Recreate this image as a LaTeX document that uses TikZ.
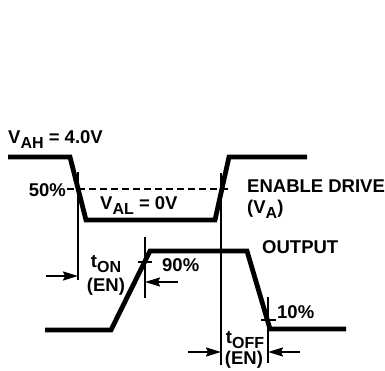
\documentclass[tikz,border=0pt]{standalone}
\usepackage{fontspec}
\setmainfont{Liberation Sans}
\usetikzlibrary{arrows.meta}
\newcommand{\lowidx}[1]{\raisebox{-4.5pt}{\fontsize{16}{18}\selectfont #1}}
\tikzset{
  >={Stealth[length=15pt,width=9pt,inset=2pt]},
  wave/.style={line width=4.8pt,draw=black},
  marker/.style={line width=1.8pt,draw=black},
  level/.style={line width=1.6pt,dash pattern=on 7pt off 4pt},
  dim/.style={->,line width=1.8pt},
  lbl/.style={font=\bfseries\fontsize{18.5}{21}\selectfont,inner sep=0pt}
}
\begin{document}
\begin{tikzpicture}[x=1pt,y=1pt]
  \useasboundingbox (0,0) rectangle (385,371);
  % enable drive
  \coordinate (a0) at (8,214);
  \coordinate (a1) at (70,214);
  \coordinate (a2) at (86,151);
  \coordinate (a3) at (215,151);
  \coordinate (a4) at (229,214);
  \coordinate (a5) at (307,214);
  \draw[wave] (a0)--(a1)--(a2)--(a3)--(a4)--(a5);
  % output
  \coordinate (b0) at (45,41);
  \coordinate (b1) at (111,41);
  \coordinate (b2) at (150,120);
  \coordinate (b3) at (247,120);
  \coordinate (b4) at (270,42);
  \coordinate (b5) at (346,42);
  \draw[wave] (b0)--(b1)--(b2)--(b3)--(b4)--(b5);
  % 50% level
  \coordinate (h0) at (67,182);
  \coordinate (h1) at (228,182);
  \draw[level] (h0)--(h1);
  % timing markers
  \foreach \nm/\x/\ya/\yb in {m1/78/199/91, m2/221/198/6, m3/145/134/73, m4/268/74/8}{
    \coordinate (\nm t) at (\x,\ya);
    \coordinate (\nm b) at (\x,\yb);
    \draw[marker] (\nm t)--(\nm b);
  }
  \draw[marker] (138,109)--(152,109);
  \draw[marker] (261,51)--(276,51);
  % arrows
  \coordinate (p1) at (46,95);
  \coordinate (p2) at (78,95);
  \coordinate (p3) at (178,89);
  \coordinate (p4) at (145,89);
  \coordinate (p5) at (188,19);
  \coordinate (p6) at (221,19);
  \coordinate (p7) at (300,19);
  \coordinate (p8) at (268,19);
  \draw[dim] (p1)--(p2);
  \draw[dim] (p3)--(p4);
  \draw[dim] (p5)--(p6);
  \draw[dim] (p7)--(p8);
  % labels
  \node[lbl,anchor=base west] (vah) at (8,227) {V\lowidx{AH} = 4.0V};
  \node[lbl,anchor=base east] (pc50) at (66,174) {50\%};
  \node[lbl,anchor=base west] (val) at (100,161) {V\lowidx{AL} = 0V};
  \node[lbl,anchor=base west] (drv) at (247,178) {ENABLE DRIVE};
  \node[lbl,anchor=base west] (va) at (247,157) {(V\lowidx{A})};
  \node[lbl,anchor=base west] (out) at (262,117) {OUTPUT};
  \node[lbl,anchor=base west] (pc90) at (162,99) {90\%};
  \node[lbl,anchor=base west] (pc10) at (277,52) {10\%};
  \node[lbl,anchor=base] (ton) at (106,103) {t\lowidx{ON}};
  \node[lbl,anchor=base] (tonen) at (106,79) {(EN)};
  \node[lbl,anchor=base] (toff) at (245,27) {t\lowidx{OFF}};
  \node[lbl,anchor=base] (toffen) at (244,6) {(EN)};
\end{tikzpicture}
\end{document}
